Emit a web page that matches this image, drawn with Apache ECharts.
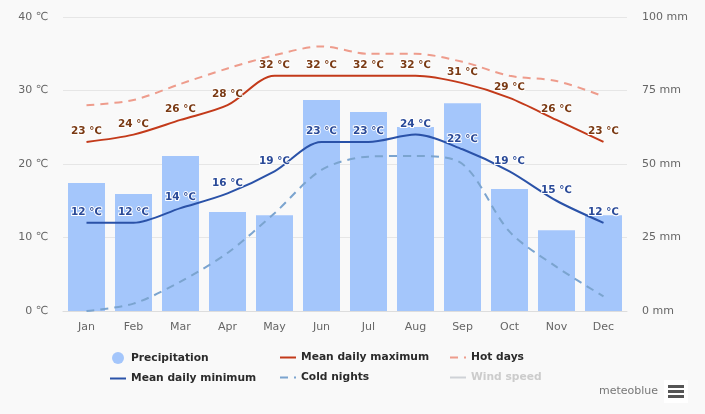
<!DOCTYPE html>
<html>
<head>
<meta charset="utf-8">
<style>
html, body { margin: 0; padding: 0; background: #f9f9f9; }
#chart { width: 705px; height: 414px; }
</style>
<script src="https://cdn.jsdelivr.net/npm/echarts@6/dist/echarts.min.js"></script>
</head>
<body>
<div id="chart"></div>
<script>
var months = ['Jan', 'Feb', 'Mar', 'Apr', 'May', 'Jun', 'Jul', 'Aug', 'Sep', 'Oct', 'Nov', 'Dec'];
var precipitation = [43.5, 39.8, 52.7, 33.7, 32.6, 71.8, 67.7, 62.6, 70.7, 41.5, 27.5, 32.6];
var meanMax = [23, 24, 26, 28, 32, 32, 32, 32, 31, 29, 26, 23];
var meanMin = [12, 12, 14, 16, 19, 23, 23, 24, 22, 19, 15, 12];
var hotDays = [28, 28.7, 30.9, 33, 34.8, 36, 35, 35, 33.9, 32, 31.3, 29.2];
var coldNights = [0, 1, 4, 7.9, 13.3, 19.2, 21, 21.1, 20, 10.8, 6, 2];
var windSpeed = [];

var fontName = '"DejaVu Sans", sans-serif';

function tempLabel(color) {
    return {
        show: true,
        position: 'top',
        distance: 5,
        formatter: '{c} ℃',
        color: color,
        fontFamily: fontName,
        fontSize: 10.5,
        fontWeight: 'bold',
        textBorderColor: '#ffffff',
        textBorderWidth: 2
    };
}

function lineSeries(name, data, color, dashed, label) {
    return {
        name: name,
        type: 'line',
        yAxisIndex: 0,
        data: data,
        smooth: 0.3,
        showSymbol: !!label,
        symbol: 'circle',
        symbolSize: 0,
        z: dashed ? 3 : 4,
        itemStyle: { color: color },
        lineStyle: { color: color, width: 2, type: dashed ? [8, 6] : 'solid' },
        label: label || { show: false }
    };
}

// line items: no marker in the legend, only the stroke
function lineItem(name) {
    return { name: name, itemStyle: { opacity: 0 } };
}

function legendColumn(left, top, names) {
    return {
        left: left,
        top: top,
        orient: 'vertical',
        itemGap: 9,
        itemWidth: 16,
        itemHeight: 12,
        padding: 0,
        inactiveColor: '#cccccc',
        selected: { 'Wind speed': false },
        textStyle: { color: '#2b2b2b', fontFamily: fontName, fontSize: 10.7, fontWeight: 'bold' },
        data: names
    };
}

var option = {
    backgroundColor: '#f9f9f9',
    animation: false,
    textStyle: { fontFamily: fontName },
    legend: [
        legendColumn(109, 352, [{ name: 'Precipitation', icon: 'circle' }, lineItem('Mean daily minimum')]),
        legendColumn(279, 352, [lineItem('Mean daily maximum'), lineItem('Cold nights')]),
        legendColumn(449, 352, [lineItem('Hot days'), lineItem('Wind speed')])
    ],
    grid: { left: 63, right: 78, top: 17, bottom: 103 },
    xAxis: {
        type: 'category',
        data: months,
        axisTick: { show: false },
        axisLine: { lineStyle: { color: '#dddddd' } },
        axisLabel: { color: '#666666', fontSize: 11, fontFamily: fontName, margin: 11 }
    },
    yAxis: [
        {
            type: 'value',
            min: 0,
            max: 40,
            interval: 10,
            axisLabel: { formatter: '{value} ℃', color: '#666666', fontSize: 11, fontFamily: fontName, margin: 15, padding: [2, 0, 0, 0] },
            splitLine: { lineStyle: { color: '#e6e6e6' } }
        },
        {
            type: 'value',
            min: 0,
            max: 100,
            interval: 25,
            axisLabel: { formatter: '{value} mm', color: '#666666', fontSize: 11, fontFamily: fontName, margin: 15, padding: [2, 0, 0, 0] },
            splitLine: { show: false }
        }
    ],
    series: [
        {
            name: 'Precipitation',
            type: 'bar',
            yAxisIndex: 1,
            data: precipitation,
            barWidth: 37,
            z: 2,
            itemStyle: { color: '#a4c6fb' }
        },
        lineSeries('Mean daily maximum', meanMax, '#c33a1a', false, tempLabel('#7a3a14')),
        lineSeries('Hot days', hotDays, '#ee9c8c', true),
        lineSeries('Mean daily minimum', meanMin, '#2a52a8', false, tempLabel('#2a4a98')),
        lineSeries('Cold nights', coldNights, '#7ba4cf', true),
        lineSeries('Wind speed', windSpeed, '#cccccc', false)
    ],
    graphic: [
        { type: 'text', left: 599, top: 386, style: { text: 'meteoblue', fill: '#777777', fontSize: 11, fontFamily: fontName } },
        { type: 'rect', left: 664, top: 380, shape: { width: 24, height: 23 }, style: { fill: '#ffffff' } },
        { type: 'rect', left: 668, top: 385, shape: { width: 16, height: 3 }, style: { fill: '#555555' } },
        { type: 'rect', left: 668, top: 390, shape: { width: 16, height: 3 }, style: { fill: '#555555' } },
        { type: 'rect', left: 668, top: 395, shape: { width: 16, height: 3 }, style: { fill: '#555555' } }
    ]
};

var chart = echarts.init(document.getElementById('chart'));
chart.setOption(option);
</script>
</body>
</html>
